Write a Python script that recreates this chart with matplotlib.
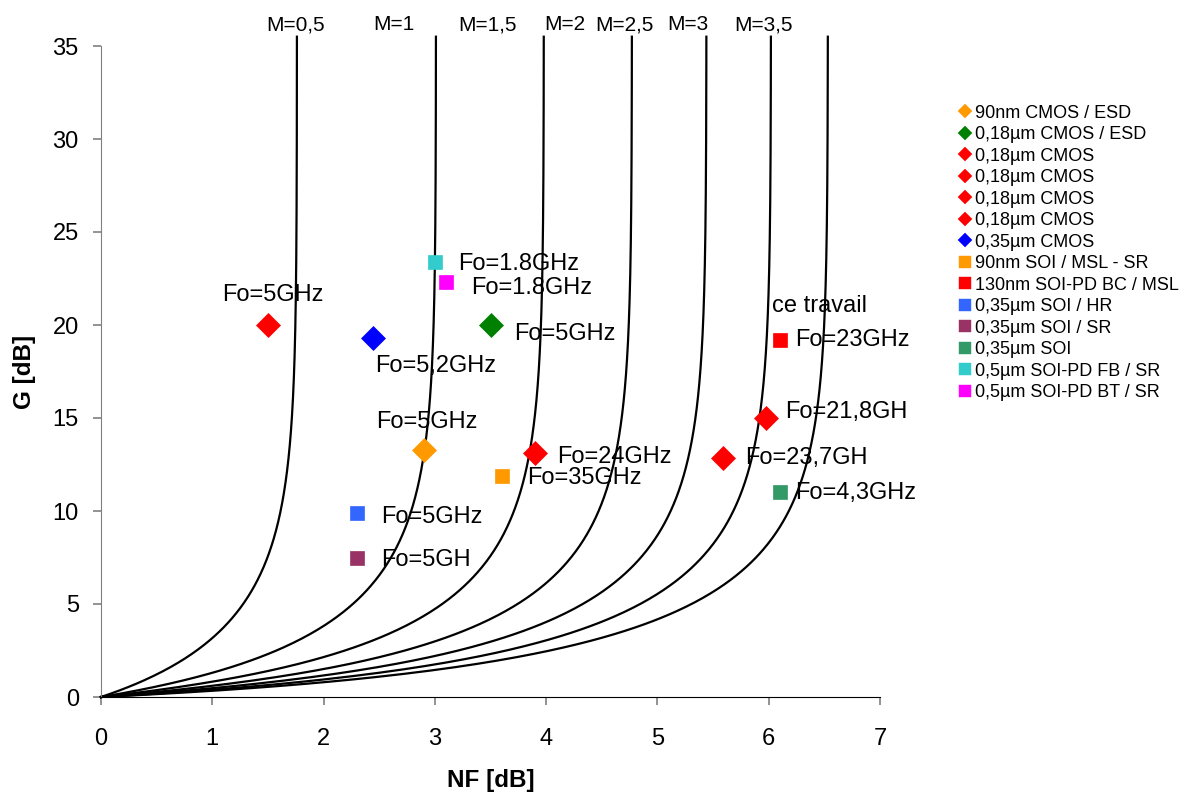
import numpy as np
import matplotlib
matplotlib.use("Agg")
import matplotlib.pyplot as plt
from matplotlib.lines import Line2D

plt.rcParams['font.family'] = ['Liberation Sans', 'DejaVu Sans']

# ---- data ----
m_values = [0.5, 1, 1.5, 2, 2.5, 3, 3.5]
m_labels = ["M=0,5", "M=1", "M=1,5", "M=2", "M=2,5", "M=3", "M=3,5"]
m_label_x = [1.75, 2.63, 3.47, 4.17, 4.70, 5.27, 5.95]

series_labels = ["90nm CMOS / ESD", "0,18µm CMOS / ESD", "0,18µm CMOS", "0,18µm CMOS",
                 "0,18µm CMOS", "0,18µm CMOS", "0,35µm CMOS", "90nm SOI / MSL - SR",
                 "130nm SOI-PD BC / MSL", "0,35µm SOI / HR", "0,35µm SOI / SR",
                 "0,35µm SOI", "0,5µm SOI-PD FB / SR", "0,5µm SOI-PD BT / SR"]
series_nf = [2.90, 3.50, 1.50, 3.90, 5.59, 5.98, 2.44, 3.60, 6.10, 2.30, 2.30, 6.10, 3.00, 3.10]
series_g = [13.3, 20.0, 20.0, 13.1, 12.85, 15.0, 19.3, 11.9, 19.2, 9.9, 7.5, 11.0, 23.4, 22.3]
series_markers = ['D', 'D', 'D', 'D', 'D', 'D', 'D', 's', 's', 's', 's', 's', 's', 's']
series_colors = ['#FF9900', '#008000', '#FF0000', '#FF0000', '#FF0000', '#FF0000', '#0000FF',
                 '#FF9900', '#FF0000', '#3366FF', '#993366', '#339966', '#33CCCC', '#FF00FF']

ann_texts = ["Fo=5GHz", "Fo=5,2GHz", "Fo=5GHz", "Fo=1.8GHz", "Fo=1.8GHz", "Fo=5GHz",
             "Fo=24GHz", "Fo=35GHz", "Fo=5GHz", "Fo=5GH", "ce travail", "Fo=23GHz",
             "Fo=21,8GH", "Fo=23,7GH", "Fo=4,3GHz"]
ann_x = [1.09, 2.46, 3.71, 3.21, 3.33, 2.47, 4.10, 3.83, 2.52, 2.52, 6.03, 6.24, 6.15, 5.79, 6.24]
ann_y = [21.6, 17.8, 19.5, 23.3, 22.0, 14.8, 12.9, 11.8, 9.7, 7.35, 21.0, 19.2, 15.3, 12.85, 10.97]

# ---- figure ----
fig = plt.figure(figsize=(11.94, 8.0), dpi=100)
ax = fig.add_axes([101/1194, 1-697/800, (880-101)/1194, (697-46)/800])

g_db = np.linspace(0, 35.5, 600)
g_lin = 10 ** (g_db / 10)
for m in m_values:
    f = 1 + m * (1 - 1 / g_lin)
    ax.plot(10 * np.log10(f), g_db, color='black', lw=1.6, clip_on=False, zorder=2)

for lab, xm in zip(m_labels, m_label_x):
    ax.text(xm, 36.15, lab, ha='center', va='center', fontsize=15, clip_on=False)

for lab, x, y, mk, c in zip(series_labels, series_nf, series_g, series_markers, series_colors):
    ms = 12 if mk == 'D' else 10.5
    ax.plot([x], [y], linestyle='none', marker=mk, ms=ms, color=c,
            markeredgewidth=0.5, markeredgecolor=c, zorder=3, clip_on=False)

for t, x, y in zip(ann_texts, ann_x, ann_y):
    ax.text(x, y, t, ha='left', va='center', fontsize=17, zorder=4)

ax.set_xlim(0, 7)
ax.set_ylim(0, 35)
ax.set_xticks(range(0, 8))
ax.set_yticks(range(0, 36, 5))
for s in ['top', 'right']:
    ax.spines[s].set_visible(False)
ax.spines['left'].set_color('#808080')
ax.spines['bottom'].set_color('black')
ax.tick_params(axis='both', direction='out', length=6, width=1.2, colors='#808080',
               labelcolor='black', labelsize=17)
ax.tick_params(axis='x', pad=16)
ax.tick_params(axis='y', pad=10)
ax.set_xlabel("NF [dB]", fontsize=17.5, fontweight='bold', labelpad=14)
ax.set_ylabel("G [dB]", fontsize=17.5, fontweight='bold', labelpad=12)

handles = []
for lab, mk, c in zip(series_labels, series_markers, series_colors):
    ms = 7.2 if mk == 'D' else 9.2
    handles.append(Line2D([], [], linestyle='none', marker=mk, ms=ms, color=c,
                          markeredgewidth=0.3, markeredgecolor=c, label=lab))

fig.legend(handles=handles, loc='upper left', bbox_to_anchor=(958/1194, 1-104.5/800),
           frameon=False, fontsize=13, handlelength=0.8,
           handletextpad=0.15, labelspacing=0.25, borderpad=0, borderaxespad=0)

fig.savefig("out.png", dpi=100)
